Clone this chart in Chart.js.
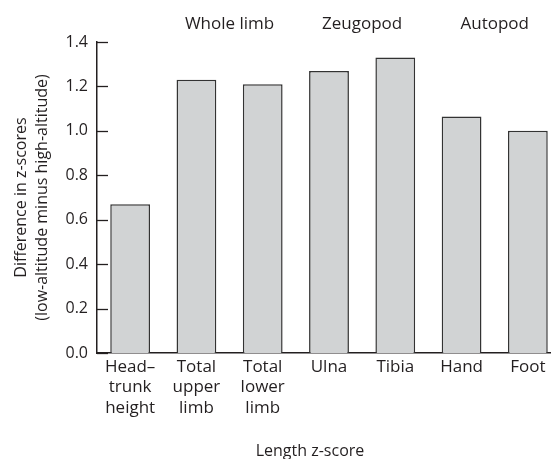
<!DOCTYPE html>
<html>
<head>
<meta charset="utf-8">
<script src="https://cdn.jsdelivr.net/npm/chart.js@4/dist/chart.umd.min.js"></script>
<style>
  html, body { margin: 0; padding: 0; background: #fff; overflow: hidden; }
  #wrap { width: 561px; height: 459px; }
</style>
</head>
<body>
<div id="wrap"><canvas id="chart"></canvas></div>
<script>
// categories (multi-line tick labels) and bar heights
const categories = [
    ['Head\u2013', 'trunk', 'height'],
    ['Total', 'upper', 'limb'],
    ['Total', 'lower', 'limb'],
    'Ulna',
    'Tibia',
    'Hand',
    'Foot'
];
const differences = [0.67, 1.23, 1.21, 1.27, 1.33, 1.065, 1.00];

// group headings above the bars, each spanning two categories
const groupNames = ['Whole limb', 'Zeugopod', 'Autopod'];
const groupFirst = [1, 3, 5];
const groupLast = [2, 4, 6];

const yTitle = ['Difference in z-scores', '(low-altitude minus high-altitude)'];
const xTitle = 'Length z-score';

const ink = '#231f20';
const fontFamily = '"Open Sans", "DejaVu Sans", sans-serif';

// inward y ticks, group headings and the x title
const extras = {
    id: 'extras',
    afterDraw(chart) {
        const ctx = chart.ctx;
        const x = chart.scales.x;
        const y = chart.scales.y;
        ctx.save();
        ctx.strokeStyle = ink;
        ctx.lineWidth = 1.3;
        y.ticks.forEach(t => {
            const py = Math.round(y.getPixelForValue(t.value)) + 0.5;
            ctx.beginPath();
            ctx.moveTo(y.right, py);
            ctx.lineTo(y.right + 11, py);
            ctx.stroke();
        });

        ctx.fillStyle = ink;
        ctx.textAlign = 'center';
        ctx.textBaseline = 'alphabetic';
        ctx.font = '17px ' + fontFamily;
        groupNames.forEach((name, i) => {
            const cx = (x.getPixelForValue(groupFirst[i]) + x.getPixelForValue(groupLast[i])) / 2;
            ctx.fillText(name, cx, 29);
        });

        ctx.font = '16px ' + fontFamily;
        ctx.fillText(xTitle, 310, 456);
        ctx.restore();
    }
};

new Chart(document.getElementById('chart'), {
    type: 'bar',
    data: {
        labels: categories,
        datasets: [{
            data: differences,
            backgroundColor: '#d1d3d4',
            borderColor: '#333333',
            borderWidth: 1.5,
            categoryPercentage: 1,
            barPercentage: 0.6
        }]
    },
    options: {
        responsive: true,
        maintainAspectRatio: false,
        animation: false,
        devicePixelRatio: 1,
        layout: { padding: { top: 42, left: 0, right: 0, bottom: 0 } },
        plugins: {
            legend: { display: false },
            tooltip: { enabled: false }
        },
        scales: {
            x: {
                offset: true,
                grid: { display: false, drawTicks: false },
                border: { display: true, color: ink, width: 1.5 },
                ticks: {
                    color: ink,
                    padding: 4,
                    maxRotation: 0,
                    autoSkip: false,
                    font: { family: fontFamily, size: 17, lineHeight: 1.2 }
                },
                afterFit(scale) { scale.height = 106; }
            },
            y: {
                min: 0,
                max: 1.4,
                grid: { display: false, drawTicks: false },
                border: { display: true, color: ink, width: 1.5 },
                ticks: {
                    stepSize: 0.2,
                    color: ink,
                    padding: 9,
                    font: { family: fontFamily, size: 16 },
                    callback: v => v.toFixed(1)
                },
                title: {
                    display: true,
                    text: yTitle,
                    color: ink,
                    padding: { top: 11, bottom: 0 },
                    font: { family: fontFamily, size: 16, lineHeight: 1.3 }
                },
                afterFit(scale) { scale.width = 97; }
            }
        }
    },
    plugins: [extras]
});
</script>
</body>
</html>
